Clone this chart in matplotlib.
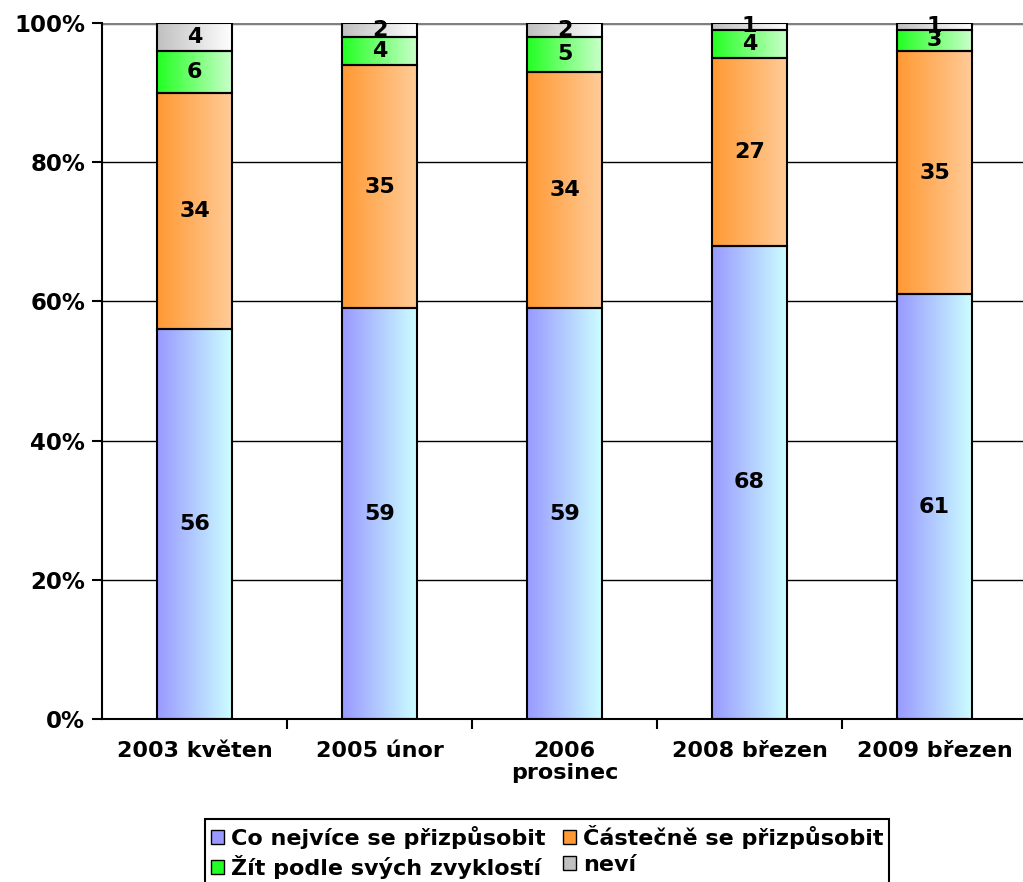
import matplotlib
matplotlib.use("Agg")
import matplotlib.pyplot as plt
import numpy as np
from matplotlib.colors import LinearSegmentedColormap
from matplotlib.patches import Patch

categories = ["2003 květen", "2005 únor", "2006\nprosinec", "2008 březen", "2009 březen"]
series_names = ["Co nejvíce se přizpůsobit", "Částečně se přizpůsobit",
                "Žít podle svých zvyklostí", "neví"]
co_nejvice = [56, 59, 59, 68, 61]
castecne = [34, 35, 34, 27, 35]
zit_podle = [6, 4, 5, 4, 3]
nevi = [4, 2, 2, 1, 1]
series = [co_nejvice, castecne, zit_podle, nevi]
gradients = [("#9999FF", "#CCFFFF"), ("#FF9933", "#FFCC99"),
             ("#22FF22", "#CCFFCC"), ("#C0C0C0", "#FFFFFF")]

plt.rcParams['font.family'] = ['DejaVu Sans']
fig = plt.figure(figsize=(10.23, 8.82), dpi=100)
ax = fig.add_axes([102/1023, 1-719/882, 925/1023, (719-23)/882])

x = np.arange(len(categories))
width = 0.41
bottom = np.zeros(len(categories))
grad = np.linspace(0, 1, 256).reshape(1, -1)
for vals, (c0, c1) in zip(series, gradients):
    cmap = LinearSegmentedColormap.from_list("g", [c0, c1])
    bars = ax.bar(x, vals, width, bottom=bottom, facecolor="none",
                  edgecolor="black", linewidth=1.5, zorder=3)
    for b, v in zip(bars, vals):
        x0, y0 = b.get_x(), b.get_y()
        im = ax.imshow(grad, cmap=cmap, aspect="auto",
                       extent=[x0, x0 + b.get_width(), y0, y0 + b.get_height()],
                       zorder=2, interpolation="bilinear")
        im.set_clip_path(b)
        ax.text(x0 + b.get_width()/2, y0 + b.get_height()/2, str(v),
                ha="center", va="center", fontsize=16, fontweight="bold", zorder=5)
    bottom += np.array(vals)

ax.set_xlim(-0.5, len(categories) - 0.5)
ax.set_ylim(0, 100)
ax.set_yticks([0, 20, 40, 60, 80, 100])
ax.set_yticklabels(["0%", "20%", "40%", "60%", "80%", "100%"],
                   fontsize=16.5, fontweight="bold")
ax.set_xticks(x)
ax.set_xticklabels(categories, fontsize=16, fontweight="bold", linespacing=1.1)
ax.tick_params(axis="x", length=0, pad=16)
ax.set_xticks(np.arange(0.5, len(categories) - 0.5, 1), minor=True)
ax.tick_params(axis="x", which="minor", length=7, width=1.5, direction="out")
ax.tick_params(axis="y", length=7, width=1.5, pad=5)
for yv in [20, 40, 60, 80]:
    ax.axhline(yv, color="black", linewidth=1, zorder=1)
ax.axhline(100, color="#808080", linewidth=2.5, zorder=1)
for s in ["top", "right"]:
    ax.spines[s].set_visible(False)
ax.spines["left"].set_linewidth(1.5)
ax.spines["bottom"].set_linewidth(1.5)

handles = [Patch(facecolor=c0, edgecolor="black", linewidth=1) for c0, c1 in gradients]
order = [0, 2, 1, 3]
leg = fig.legend([handles[i] for i in order], [series_names[i] for i in order],
                 loc="upper left", bbox_to_anchor=(205/1023, 1 - 819/882), ncol=2,
                 prop={"size": 16, "weight": "bold"}, frameon=True, fancybox=False,
                 edgecolor="black", framealpha=1, handlelength=0.6, handleheight=0.6,
                 handletextpad=0.3, columnspacing=0.8, labelspacing=0.3,
                 borderpad=0.25, borderaxespad=0)
leg.get_frame().set_linewidth(1.5)

fig.savefig("out.png", dpi=100)
